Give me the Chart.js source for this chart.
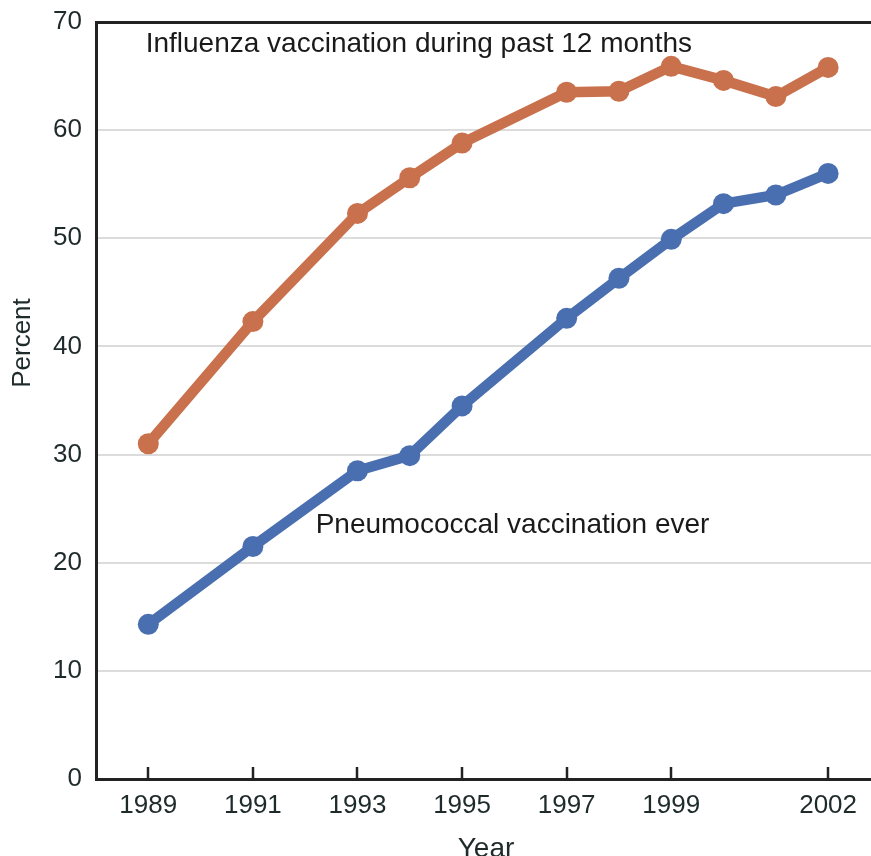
<!DOCTYPE html>
<html>
<head>
<meta charset="utf-8">
<script src="https://cdn.jsdelivr.net/npm/chart.js@4.4.1/dist/chart.umd.min.js"></script>
<style>
html, body { margin: 0; padding: 0; background: #fff; overflow: hidden; }
canvas { display: block; }
</style>
</head>
<body>
<canvas id="vaccChart" width="871" height="856"></canvas>
<script>
// Datos del gráfico
const years = [1989, 1991, 1993, 1994, 1995, 1997, 1998, 1999, 2000, 2001, 2002];
const influenza = [31.0, 42.3, 52.3, 55.6, 58.8, 63.5, 63.6, 65.9, 64.6, 63.1, 65.8];
const pneumococcal = [14.3, 21.5, 28.5, 29.9, 34.5, 42.6, 46.3, 49.9, 53.2, 54.0, 56.0];
const xTickYears = [1989, 1991, 1993, 1995, 1997, 1999, 2002];
const seriesNames = ['Influenza vaccination during past 12 months', 'Pneumococcal vaccination ever'];

const textColor = '#1f2a2a';
const font = '"Liberation Sans", Arial, sans-serif';

// etiquetas sobre las líneas, en coordenadas de datos
const labelAnchors = [
    { x: 1988.95, y: 67.9 },
    { x: 1992.2, y: 23.5 }
];

const extras = {
    id: 'extras',
    afterDraw(chart) {
        const c = chart.ctx;
        const xs = chart.scales.x;
        const ys = chart.scales.y;
        const area = chart.chartArea;
        c.save();
        // marcas del eje x hacia adentro
        c.strokeStyle = '#222';
        c.lineWidth = 2.5;
        xTickYears.forEach(v => {
            const px = Math.round(xs.getPixelForValue(v));
            c.beginPath();
            c.moveTo(px, area.bottom);
            c.lineTo(px, area.bottom - 12);
            c.stroke();
        });
        // textos de las series
        c.fillStyle = '#1a1a1a';
        c.font = '28px ' + font;
        c.textAlign = 'left';
        c.textBaseline = 'middle';
        seriesNames.forEach((name, i) => {
            c.fillText(name, xs.getPixelForValue(labelAnchors[i].x), ys.getPixelForValue(labelAnchors[i].y));
        });
        // títulos de ejes
        c.fillStyle = textColor;
        c.font = '26px ' + font;
        c.save();
        c.translate(23, 343);
        c.rotate(-Math.PI / 2);
        c.textAlign = 'center';
        c.textBaseline = 'middle';
        c.fillText('Percent', 0, 0);
        c.restore();
        c.font = '28px ' + font;
        c.textAlign = 'center';
        c.textBaseline = 'top';
        c.fillText('Year', 486, 835);
        c.restore();
    }
};

const ctx = document.getElementById('vaccChart').getContext('2d');
new Chart(ctx, {
    type: 'line',
    data: {
        labels: years,
        datasets: [{
            label: seriesNames[0],
            data: years.map((y, i) => ({ x: y, y: influenza[i] })),
            borderColor: '#c9714c',
            backgroundColor: '#c9714c',
            borderWidth: 10.5,
            pointRadius: 10.5,
            pointBorderWidth: 0,
            pointHoverRadius: 10.5
        }, {
            label: seriesNames[1],
            data: years.map((y, i) => ({ x: y, y: pneumococcal[i] })),
            borderColor: '#4a6fb0',
            backgroundColor: '#4a6fb0',
            borderWidth: 10.5,
            pointRadius: 10.5,
            pointBorderWidth: 0,
            pointHoverRadius: 10.5
        }]
    },
    options: {
        responsive: false,
        animation: false,
        layout: { autoPadding: false, padding: { top: 22, right: 0, left: 0, bottom: 0 } },
        plugins: {
            legend: { display: false },
            tooltip: { enabled: false }
        },
        scales: {
            x: {
                type: 'linear',
                min: 1988,
                max: 2002.82,
                afterBuildTicks: scale => {
                    scale.ticks = xTickYears.map(v => ({ value: v }));
                },
                afterFit: scale => {
                    scale.height = 77;
                    scale.paddingLeft = 0;
                    scale.paddingRight = 0;
                },
                grid: { display: false },
                border: { display: true, color: '#222', width: 3 },
                ticks: {
                    color: textColor,
                    font: { family: font, size: 26 },
                    padding: 3,
                    maxRotation: 0,
                    autoSkip: false,
                    callback: v => String(v)
                }
            },
            y: {
                min: 0,
                max: 70,
                afterFit: scale => {
                    scale.width = 96;
                    scale.paddingTop = 0;
                    scale.paddingBottom = 0;
                },
                grid: {
                    drawTicks: false,
                    color: c => c.tick.value === 70 ? '#222' : (c.tick.value === 0 ? 'rgba(0,0,0,0)' : '#dcdcdc'),
                    lineWidth: c => c.tick.value === 70 ? 3 : 2
                },
                border: { display: true, color: '#222', width: 3 },
                ticks: {
                    stepSize: 10,
                    color: textColor,
                    font: { family: font, size: 26 },
                    padding: 14
                }
            }
        }
    },
    plugins: [extras]
});
</script>
</body>
</html>
